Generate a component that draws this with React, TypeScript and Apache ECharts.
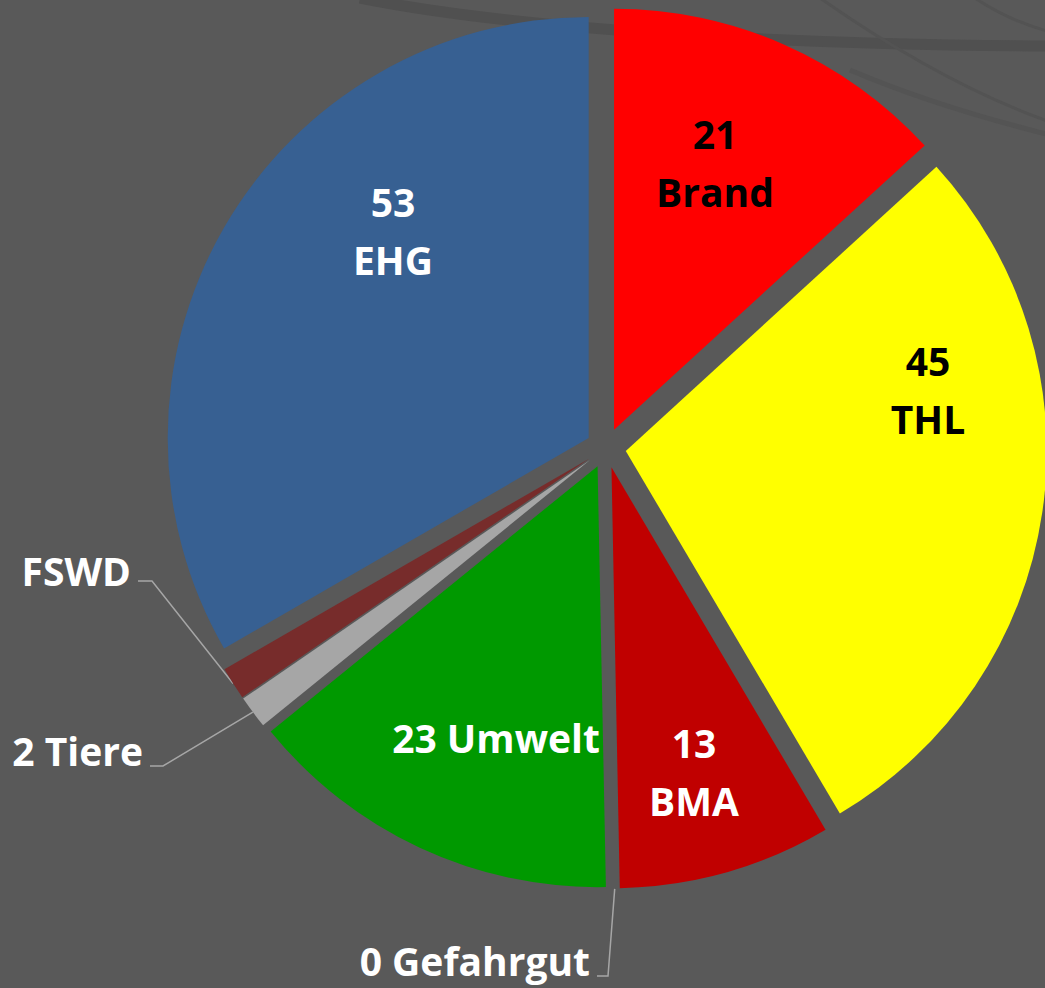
import React, { useEffect, useRef } from "react";
import * as echarts from "echarts";

// ---- data ----
const categories = ["Brand", "THL", "BMA", "Gefahrgut", "Umwelt", "Tiere", "FSWD", "EHG"];
const values = [21, 45, 13, 0, 23, 2, 2, 53];
const labelFormats = ["{c}\n{b}", "{c}\n{b}", "{c}\n{b}", "{c} {b}", "{c} {b}", "{c} {b}", "{b}", "{c}\n{b}"];
const outsideLabel = [false, false, false, true, false, true, true, false];

// ---- styles / layout ----
const colors = ["#FF0000", "#FFFF00", "#C00000", "#7F7F7F", "#009900", "#A6A6A6", "#772C2B", "#376092"];
const labelColors = ["#000000", "#000000", "#FFFFFF", "#FFFFFF", "#FFFFFF", "#FFFFFF", "#FFFFFF", "#FFFFFF"];
// label anchor positions (inside: centre of text block; outside: right edge / middle)
const labelAnchors: [number, number][] = [
  [715, 162], [928, 389], [694, 771], [590, 960], [496, 737], [143, 750], [131, 570], [393, 230],
];
// for outside labels: elbow point and end x of the leader line
const leaderElbows: ([number, number, number] | null)[] = [
  null, null, null, [608, 976, 597], null, [163, 766, 150], [152, 581, 138], null,
];

const CX = 606;
const CY = 448;
const R = 421;
const EXPLODE = 20;
const BG = "#595959";

export default function App() {
  const ref = useRef<HTMLDivElement>(null);

  useEffect(() => {
    if (!ref.current) return;
    const chart = echarts.init(ref.current, undefined, { renderer: "svg" });
    const total = values.reduce((a, b) => a + b, 0);
    let cum = 0;
    const series = values.map((v, i) => {
      const startDeg = (cum / total) * 360;
      cum += v;
      const endDeg = (cum / total) * 360;
      const mid = (((startDeg + endDeg) / 2) * Math.PI) / 180;
      const center = [CX + EXPLODE * Math.sin(mid), CY - EXPLODE * Math.cos(mid)];
      const outside = outsideLabel[i];
      const twoLines = labelFormats[i].indexOf("\n") >= 0;
      return {
        type: "pie",
        name: categories[i],
        center,
        radius: R,
        startAngle: 90 - startDeg,
        clockwise: true,
        silent: true,
        avoidLabelOverlap: false,
        minShowLabelAngle: 0,
        emphasis: { disabled: true },
        itemStyle: { borderWidth: 0 },
        labelLayout: (params: any) => {
          if (params.dataIndex !== 0) return {};
          const [x, y] = labelAnchors[i];
          if (outside) {
            const e = leaderElbows[i]!;
            const p0 = params.labelLinePoints ? params.labelLinePoints[0] : [x, y];
            return {
              x,
              y,
              align: "right",
              verticalAlign: "middle",
              labelLinePoints: [p0, [e[0], e[1]], [e[2], e[1]]],
            };
          }
          return { x, y, align: "center", verticalAlign: "middle" };
        },
        data: [
          {
            name: categories[i],
            value: v,
            itemStyle: { color: colors[i], borderWidth: 0 },
            label: {
              show: true,
              position: outside ? "outside" : "inside",
              formatter: labelFormats[i],
              color: labelColors[i],
              fontFamily: "Open Sans",
              fontWeight: "bold",
              fontSize: 39,
              lineHeight: twoLines ? 58 : 40,
              textBorderWidth: 0,
            },
            labelLine: {
              show: outside,
              length: 40,
              length2: 15,
              lineStyle: { color: "#A6A6A6", width: 1.5 },
            },
          },
          {
            name: "",
            value: total - v,
            itemStyle: { color: "rgba(0,0,0,0)", borderWidth: 0 },
            label: { show: false },
            labelLine: { show: false },
          },
        ],
      };
    });

    const band = (pts: number[][], w: number, c: string) => ({
      type: "bezierCurve",
      silent: true,
      z: -10,
      shape: {
        x1: pts[0][0], y1: pts[0][1],
        cpx1: pts[1][0], cpy1: pts[1][1],
        cpx2: pts[2][0], cpy2: pts[2][1],
        x2: pts[3][0], y2: pts[3][1],
      },
      style: { stroke: c, lineWidth: w, fill: null },
    });

    chart.setOption({
      animation: false,
      backgroundColor: BG,
      graphic: [
        band([[360, -2], [480, 22], [700, 44], [1050, 46]], 11, "#505050"),
        band([[820, -2], [880, 40], [960, 90], [1050, 122]], 3, "#535353"),
        band([[975, -2], [1000, 15], [1025, 25], [1050, 32]], 3, "#535353"),
        band([[850, 70], [920, 100], [990, 120], [1050, 135]], 5, "#545454"),
      ],
      series,
    });
    return () => chart.dispose();
  }, []);

  return (
    <div
      ref={ref}
      style={{ position: "absolute", left: 0, top: 0, width: 1045, height: 988 }}
    />
  );
}
